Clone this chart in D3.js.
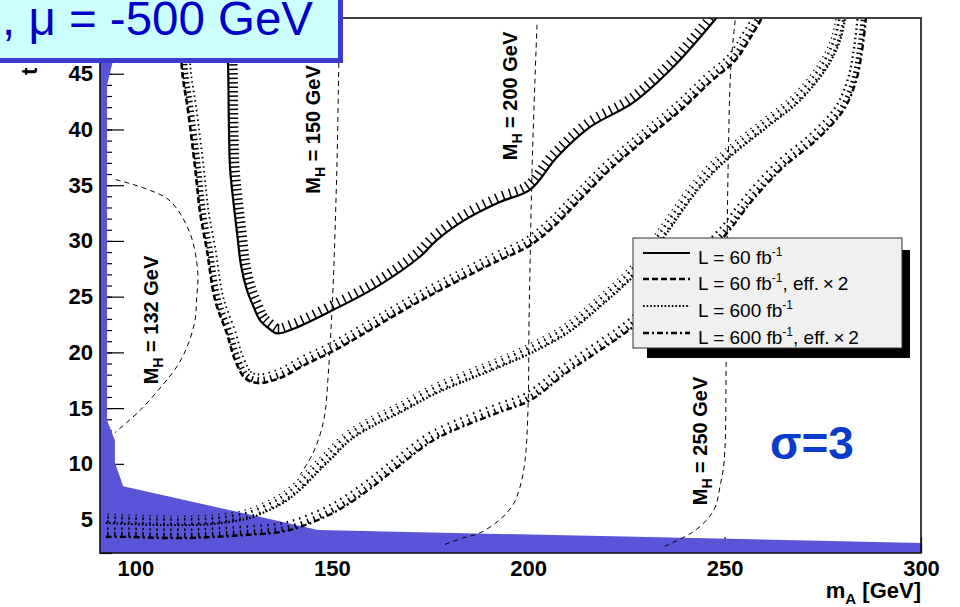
<!DOCTYPE html>
<html><head><meta charset="utf-8">
<script src="https://cdnjs.cloudflare.com/ajax/libs/d3/7.8.5/d3.min.js"></script>
<style>
body{margin:0;background:#fff}
svg{display:block}
text{font-family:"Liberation Sans",Arial,Helvetica,sans-serif}
</style>
</head><body>
<svg id="c" width="960" height="607"></svg>
<script>
// ---------- data ----------
const xTicks = [100, 150, 200, 250, 300];
const yTicks = [5, 10, 15, 20, 25, 30, 35, 40, 45];

const excludedMA   = [91, 91, 95.5, 94.2, 92.8, 92.8, 94.8, 94.8, 96.9, 146.5, 300, 300];
const excludedTanb = [2, 50, 50, 46, 44, 13.9, 12.1, 10.1, 8.0, 4.06, 2.9, 2];

const mh132MA   = [95.0, 102.5, 108.8, 113.9, 115.9, 115.6, 115.2, 113.4, 110.9, 107.0, 101.2, 94.8];
const mh132Tanb = [35.5, 34.7, 33.6, 30.7, 27.1, 24.8, 22.9, 20.7, 18.9, 17.1, 14.8, 12.8];
const mh150MA   = [152.0, 151.8, 151.3, 150.3, 149.55, 149.0, 148.3, 147.0, 145.0, 141.9];
const mh150Tanb = [50, 46, 36.6, 25.6, 20.5, 17.5, 14.6, 12.6, 10.8, 9.0];
const mh200MA   = [202.25, 201.7, 201.0, 200.5, 200.2, 200.0, 199.2, 197.9, 196.1, 192.8, 187.7, 183.4, 178.3];
const mh200Tanb = [49.4, 44.2, 36.6, 28.3, 22.3, 15.5, 10.3, 7.9, 6.3, 5.0, 3.8, 3.35, 2.7];
const mh250MA   = [252.7, 251.6, 250.9, 250.6, 250.4, 249.9, 248.8, 247.6, 245.5, 242.0, 234.8];
const mh250Tanb = [49.8, 45.6, 36.6, 28.3, 19.3, 10.3, 7.9, 6.1, 5.0, 3.9, 2.6];
const mhLabels  = ["132", "150", "200", "250"];
const mhLabelMA   = [105.8, 147.0, 197.2, 245.5];
const mhLabelTanb = [22.9, 40.0, 43.0, 12.05];

// L = 60 fb-1
const lumi60MA   = [123.1, 123.6, 123.8, 124.1, 124.9, 125.9, 126.9, 128.4, 130.2, 131.7, 133.8, 136.1, 140.1, 150.3, 161.5, 172.5, 176.8, 184.4, 192.8, 200.5, 207.3, 215.7, 226.7, 236.9, 247.9];
const lumi60Tanb = [50.0, 45.8, 40.8, 36.6, 33.7, 30.7, 27.8, 25.6, 24.0, 22.9, 22.2, 21.7, 22.1, 23.8, 25.9, 28.6, 30.1, 32.0, 33.5, 34.6, 37.5, 40.2, 42.4, 45.6, 50.0];
// L = 60 fb-1, eff x 2
const lumi60x2MA   = [111.4, 111.9, 113.4, 115.2, 116.5, 118.2, 120.3, 123.3, 125.4, 127.9, 131.2, 136.8, 143.2, 150.8, 159.7, 167.4, 175.0, 182.6, 191.6, 200.5, 206.8, 213.2, 220.8, 229.7, 238.7, 246.8, 252.7, 257.0, 259.5];
const lumi60x2Tanb = [50, 45.3, 41.7, 36.6, 32.5, 29.2, 24.7, 21.7, 19.3, 17.7, 17.25, 17.7, 18.9, 20.2, 22.0, 23.6, 25.1, 26.5, 28.1, 29.6, 31.4, 33.7, 36.4, 39.1, 41.7, 44.4, 46.2, 48.5, 50];
// L = 600 fb-1
const lumi600MA   = [92.5, 98.6, 106.3, 113.9, 119.8, 125.4, 129.2, 133.0, 137.6, 141.9, 146.2, 150.3, 154.6, 161.0, 167.4, 175.8, 184.4, 192.8, 200.5, 209.9, 218.3, 226.7, 231.0, 235.3, 243.7, 250.6, 260.8, 269.2, 276.1, 279.4, 280.7];
const lumi600Tanb = [4.69, 4.60, 4.51, 4.51, 4.60, 4.87, 5.14, 5.68, 6.49, 7.65, 9.18, 10.6, 12.1, 13.5, 14.6, 16.2, 17.5, 18.7, 19.9, 21.7, 24.1, 26.8, 28.6, 30.7, 34.8, 37.3, 40.2, 42.6, 45.6, 48.0, 50.0];
// L = 600 fb-1, eff x 2
const lumi600x2MA   = [92.5, 98.6, 106.3, 113.9, 119.8, 127.9, 136.8, 141.9, 150.3, 154.6, 161.0, 167.4, 175.8, 184.4, 192.8, 200.5, 209.9, 218.3, 226.7, 238.7, 250.6, 257.2, 264.9, 273.5, 280.2, 283.5, 285.0, 286.0];
const lumi600x2Tanb = [3.44, 3.44, 3.35, 3.35, 3.44, 3.61, 3.88, 4.33, 5.59, 6.49, 8.10, 9.90, 12.1, 13.5, 14.65, 15.7, 18.2, 20.2, 22.3, 26.5, 30.7, 33.7, 36.6, 39.1, 41.7, 44.4, 47.1, 50];

const legendLabels = ["L = 60 fb", "L = 60 fb", "L = 600 fb", "L = 600 fb"];
const legendSuffix = ["", ", eff.\u2009\u00D7\u20092", "", ", eff.\u2009\u00D7\u20092"];

// ---------- drawing ----------
const svg = d3.select("#c");
svg.append("rect").attr("width", 960).attr("height", 607).attr("fill", "#fff");

const x = d3.scaleLinear().domain([91, 300]).range([100, 921]);
const y = d3.scaleLinear().domain([2, 50]).range([553, 18]);

svg.append("defs").append("clipPath").attr("id", "plot")
  .append("rect").attr("x", x(91)).attr("y", y(50)).attr("width", x(300) - x(91)).attr("height", y(2) - y(50));

// axes (ticks under the excluded fill)
const xMinor = d3.range(100, 301, 10);
const yMinor = d3.range(2, 51, 1);
const gx = svg.append("g").attr("transform", `translate(0,${y(2)})`);
gx.append("g").call(d3.axisBottom(x).tickValues(xMinor).tickSize(-8).tickFormat(""));
gx.append("g").call(d3.axisBottom(x).tickValues(xTicks).tickSize(-16).tickPadding(7).tickFormat(d3.format("d")));
const gy = svg.append("g").attr("transform", `translate(${x(91)},0)`);
gy.append("g").call(d3.axisLeft(y).tickValues(yMinor).tickSize(-12).tickFormat(""));
gy.append("g").call(d3.axisLeft(y).tickValues(yTicks).tickSize(-24).tickPadding(7).tickFormat(d3.format("d")));
svg.selectAll(".domain").remove();
svg.selectAll(".tick line").attr("stroke", "#000").attr("stroke-width", 1.2);
svg.selectAll(".tick text").attr("font-size", 22).attr("font-weight", "bold")
  .attr("font-family", "'Liberation Sans', Arial, sans-serif").attr("fill", "#000");

const plot = svg.append("g").attr("clip-path", "url(#plot)");

// excluded region
const excl = excludedMA.map((m, i) => [x(m), y(excludedTanb[i])]);
plot.append("path").attr("d", d3.line()(excl) + "Z").attr("fill", "#5a55d8").attr("stroke", "none");

// M_H contours
const smooth = d3.line().curve(d3.curveCatmullRom.alpha(0.5));
[[mh132MA, mh132Tanb], [mh150MA, mh150Tanb], [mh200MA, mh200Tanb], [mh250MA, mh250Tanb]].forEach(([ms, ts]) => {
  plot.append("path").attr("d", smooth(ms.map((m, i) => [x(m), y(ts[i])])))
    .attr("fill", "none").attr("stroke", "#000").attr("stroke-width", 1).attr("stroke-dasharray", "5,4");
});

// hatched discovery contours (hatch spacing denser on steep parts, like the original)
function hatchPath(d, len, pieces) {
  const tmp = svg.append("path").attr("d", d).attr("fill", "none");
  const node = tmp.node();
  const L = node.getTotalLength();
  let out = "";
  let s = 2;
  while (s < L) {
    const p = node.getPointAtLength(s);
    const a = node.getPointAtLength(Math.max(0, s - 1.5));
    const b = node.getPointAtLength(Math.min(L, s + 1.5));
    let dx = b.x - a.x, dy = b.y - a.y;
    const n = Math.hypot(dx, dy) || 1; dx /= n; dy /= n;
    const nx = dy, ny = -dx;
    pieces.forEach(([f0, f1]) => {
      out += `M${(p.x + nx * len * f0).toFixed(2)},${(p.y + ny * len * f0).toFixed(2)}L${(p.x + nx * len * f1).toFixed(2)},${(p.y + ny * len * f1).toFixed(2)}`;
    });
    s += 4.4 + 2.6 * Math.abs(dx);
  }
  tmp.remove();
  return out;
}

const styles = [
  {ms: lumi60MA,    ts: lumi60Tanb,    dash: null,      w: 2.2, pieces: [[0, 1]]},
  {ms: lumi60x2MA,  ts: lumi60x2Tanb,  dash: "6,3",     w: 2.6, pieces: [[0, 0.62], [0.8, 1]]},
  {ms: lumi600MA,   ts: lumi600Tanb,   dash: "1.6,2",   w: 2.2, pieces: [[0, 0.3], [0.45, 0.75], [0.88, 1]]},
  {ms: lumi600x2MA, ts: lumi600x2Tanb, dash: "6,3,2,3", w: 2.4, pieces: [[0, 0.55], [0.75, 1]]}
];
styles.forEach(st => {
  const d = smooth(st.ms.map((m, i) => [x(m), y(st.ts[i])]));
  plot.append("path").attr("d", hatchPath(d, 9.5, st.pieces))
    .attr("fill", "none").attr("stroke", "#000").attr("stroke-width", 1.5);
  const p = plot.append("path").attr("d", d).attr("fill", "none").attr("stroke", "#000").attr("stroke-width", st.w);
  if (st.dash) p.attr("stroke-dasharray", st.dash);
});

// M_H labels
mhLabels.forEach((lab, i) => {
  const t = svg.append("text")
    .attr("transform", `translate(${x(mhLabelMA[i])},${y(mhLabelTanb[i])}) rotate(-90)`)
    .attr("text-anchor", "middle").attr("font-size", 20).attr("font-weight", "bold");
  t.append("tspan").text("M");
  t.append("tspan").attr("dy", 5).attr("font-size", 14).text("H");
  t.append("tspan").attr("dy", -5).text(` = ${lab} GeV`);
});

// sigma label
svg.append("text").attr("x", 812).attr("y", 459).attr("text-anchor", "middle")
  .attr("font-size", 46).attr("font-weight", "bold").attr("fill", "#0a3ccc").text("\u03C3=3");

// frame
svg.append("rect").attr("x", x(91)).attr("y", y(50)).attr("width", x(300) - x(91)).attr("height", y(2) - y(50))
  .attr("fill", "none").attr("stroke", "#111").attr("stroke-width", 1.6);

// legend
const lg = svg.append("g");
lg.append("rect").attr("x", 647).attr("y", 250).attr("width", 263).attr("height", 108).attr("fill", "#000");
lg.append("rect").attr("x", 633).attr("y", 238).attr("width", 269).attr("height", 110)
  .attr("fill", "#f0f0f0").attr("stroke", "#333").attr("stroke-width", 1);
const rowBase = [264, 290, 317, 344];
styles.forEach((st, i) => {
  const ly = rowBase[i] - 11;
  const l = lg.append("line").attr("x1", 643).attr("x2", 690).attr("y1", ly).attr("y2", ly)
    .attr("stroke", "#000").attr("stroke-width", st.w);
  if (st.dash) l.attr("stroke-dasharray", st.dash);
  const t = lg.append("text").attr("x", 698).attr("y", rowBase[i]).attr("font-size", 19).attr("fill", "#000");
  t.append("tspan").text(legendLabels[i]);
  t.append("tspan").attr("dy", -8).attr("font-size", 12).text("-1");
  t.append("tspan").attr("dy", 8).attr("font-size", 19).text(legendSuffix[i]);
});

// axis titles
const xt = svg.append("text").attr("x", 921).attr("y", 598).attr("text-anchor", "end")
  .attr("font-size", 22).attr("font-weight", "bold");
xt.append("tspan").text("m");
xt.append("tspan").attr("dy", 6).attr("font-size", 15).text("A");
xt.append("tspan").attr("dy", -6).text(" [GeV]");

svg.append("text").attr("transform", "translate(37,75) rotate(-90)").attr("font-size", 22)
  .attr("letter-spacing", 5).attr("font-weight", "bold").text("tan\u03B2");

// title box
svg.append("rect").attr("x", -10).attr("y", -10).attr("width", 350.5).attr("height", 70.5)
  .attr("fill", "#ccffff").attr("stroke", "#3a3acc").attr("stroke-width", 5);
svg.append("text").attr("x", 2).attr("y", 35).attr("font-size", 48)
  .attr("textLength", 311).attr("lengthAdjust", "spacingAndGlyphs")
  .attr("fill", "#0000c8").text(", \u03BC = -500 GeV");
</script>
</body></html>
